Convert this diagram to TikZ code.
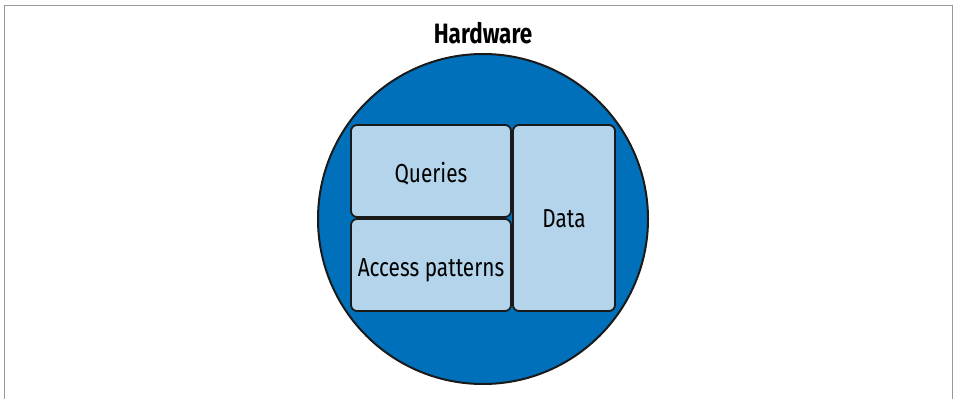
\documentclass[tikz,border=0pt]{standalone}
\usepackage{fontspec}
\setmainfont[FakeStretch=0.8]{Fira Sans}
\definecolor{hwblue}{HTML}{0070BA}
\definecolor{boxblue}{HTML}{B3D4EA}
\definecolor{edge}{HTML}{1A1A1A}
\begin{document}
\begin{tikzpicture}[x=1pt,y=-1pt,
  part/.style={draw=edge, line width=1.8pt, fill=boxblue, rounded corners=6pt, inner sep=0pt, font=\fontsize{26}{30}\selectfont, text=black, text depth=0pt, text height=22pt},
  frameline/.style={draw=gray!80, line width=1pt}]
\useasboundingbox (0,0) rectangle (956,399);
\draw[frameline] (4,399) -- (4,5) -- (952,5) -- (952,399);
\node[circle, draw=edge, line width=2pt, fill=hwblue, minimum size=330pt, inner sep=0pt] (hw) at (483,219) {};
\node[font=\bfseries\fontsize{28}{32}\selectfont, anchor=base] (hwlabel) at (483,43) {Hardware};
\node[part, minimum width=160pt, minimum height=92pt, text height=23pt] (q) at (431,171) {Queries};
\node[part, minimum width=160pt, minimum height=92pt] (ap) at (431,265) {Access patterns};
\node[part, minimum width=102pt, minimum height=186pt, text height=19pt] (d) at (564,218) {Data};
\end{tikzpicture}
\end{document}
